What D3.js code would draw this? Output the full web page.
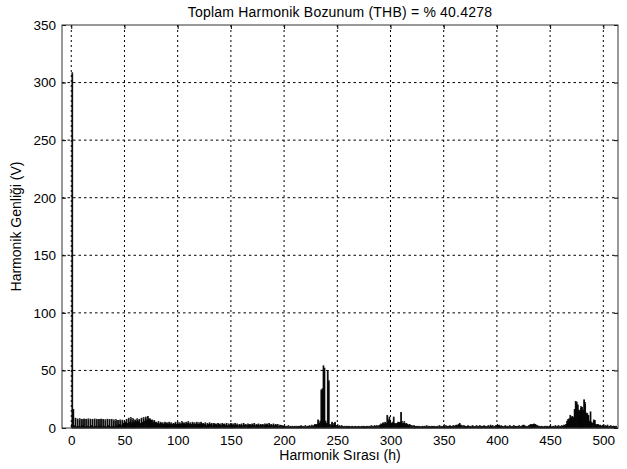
<!DOCTYPE html>
<html>
<head>
<meta charset="utf-8">
<script src="https://cdn.jsdelivr.net/npm/d3@7"></script>
<style>
  body { margin: 0; background: #fff; }
  text { font-family: "Liberation Sans", Arial, sans-serif; }
</style>
</head>
<body>
<div id="chart"></div>
<script>
var titleText = "Toplam Harmonik Bozunum (THB) = % 40.4278";
var xTitle = "Harmonik Sırası (h)";
var yTitle = "Harmonik Genliği (V)";
var xTicks = [0, 50, 100, 150, 200, 250, 300, 350, 400, 450, 500];
var yTicks = [0, 50, 100, 150, 200, 250, 300, 350];

// harmonic amplitudes (V), index = harmonic order 0..512
var amp = [
  0, 308.5, 16, 2, 8.5, 1, 7.8, 1.5, 8, 1,            // 0
  7.5, 2, 7.8, 1, 7.6, 1.5, 7.9, 1, 7.7, 2,           // 10
  7.5, 1, 7.8, 1.5, 7.6, 1, 7.4, 2, 7.7, 1,           // 20
  7.5, 1.5, 7.2, 1, 7.6, 2, 7.3, 1, 7.5, 1.5,         // 30
  7, 1, 7.2, 2, 6.5, 3, 7, 2.5, 6.8, 4,               // 40
  6, 5, 7.5, 4, 8.5, 5, 9, 4.5, 8, 5,                 // 50
  7, 5.5, 8, 6, 7.5, 4, 8.5, 5, 9, 6,                 // 60
  9.5, 7, 10, 7.5, 8, 6.5, 7, 5, 6.5, 5,              // 70
  5, 4, 5.5, 3.5, 5, 4, 4.5, 3, 5, 3.5,               // 80
  4.5, 3, 5, 3.5, 4.5, 3, 4, 3.5, 5, 3,               // 90
  5, 3.5, 4.5, 3, 5.5, 3.5, 4.5, 3, 5, 4,             // 100
  5.5, 3.5, 4.5, 3, 5, 3.5, 4.5, 3, 5, 3,             // 110
  4.5, 3, 5, 3.5, 4, 3, 4.5, 2.5, 4, 3,               // 120
  4.5, 3, 4, 2.5, 4, 3, 3.5, 2.5, 4, 3,               // 130
  3.5, 2.5, 4, 3, 3.5, 2.5, 4, 2, 3.5, 2.5,           // 140
  4, 2.5, 3.5, 2, 4, 2.5, 3.5, 2, 3, 2.5,             // 150
  3.5, 2, 4, 2.5, 3, 2, 3.5, 2.5, 3, 2,               // 160
  3.5, 2.5, 4, 2, 3, 2.5, 3.5, 2, 3, 2.5,             // 170
  3, 2, 3.5, 2.5, 3.5, 2, 4, 2.5, 3, 2,               // 180
  3.5, 2, 3, 2.5, 3, 1.5, 2.5, 2, 2, 1.5,             // 190
  1.5, 1, 1.5, 1, 2, 1, 1.5, 1, 1.5, 1,               // 200
  1.5, 1, 1.5, 1, 1.5, 1, 2, 1, 1.5, 1,               // 210
  2, 1, 1.5, 1.5, 2, 1, 2.5, 1.5, 2, 3,               // 220
  2.5, 3, 7, 4, 6, 33, 34, 54, 52, 6,                 // 230
  4, 50, 41, 3, 2, 5, 2, 4, 5, 2,                     // 240
  2, 1.5, 2, 1, 2, 1.5, 1, 1.5, 1, 1.5,               // 250
  1, 1.5, 1, 1, 1.5, 1, 1, 1.5, 1, 1,                 // 260
  1.5, 1, 1, 1.5, 1, 1.5, 1, 1, 1.5, 1,               // 270
  1.5, 1, 2, 1.5, 1, 2, 1.5, 2, 1.5, 2,               // 280
  2.5, 3.5, 3, 4.5, 3.5, 5, 4, 11, 7, 9.5,            // 290
  5, 4, 5, 9.5, 4, 3.5, 4, 5, 4.5, 5,                 // 300
  13.5, 5.5, 4, 5.5, 3.5, 4, 3, 2.5, 3, 2,            // 310
  2, 1.5, 2, 1.5, 1, 1.5, 1, 1.5, 1, 1,               // 320
  1.5, 1, 1.5, 1, 2, 1, 1.5, 1, 1, 1.5,               // 330
  1, 1.5, 1, 1, 1.5, 1, 2, 1, 1.5, 1,                 // 340
  1.5, 1, 2, 1.5, 1, 1.5, 2, 1, 1.5, 2,               // 350
  1.5, 2, 2.5, 2, 3, 4, 2.5, 2, 1.5, 2,               // 360
  1.5, 1, 1.5, 2, 1, 1.5, 1, 2, 1.5, 1,               // 370
  1.5, 2, 1, 1.5, 2, 1, 1.5, 1, 2, 1.5,               // 380
  1, 1.5, 2, 1, 2.5, 1.5, 2, 1, 1.5, 2,               // 390
  2, 1.5, 2.5, 1, 2, 1.5, 1, 1.5, 2, 1,               // 400
  1.5, 1, 2, 1.5, 1, 1.5, 2, 1, 1.5, 1,               // 410
  1.5, 2, 1, 1.5, 2, 2.5, 2, 1.5, 1, 1.5,             // 420
  2, 2.5, 3, 2.5, 3, 3.5, 3, 2.5, 2, 1.5,             // 430
  1.5, 1, 1.5, 1, 1, 1.5, 1, 1.5, 1, 1,               // 440
  1.5, 1, 1, 1.5, 1, 2, 1, 1.5, 2, 1,                 // 450
  1.5, 2, 1.5, 2.5, 2, 3, 6, 7.5, 8, 11,              // 460
  9.5, 10, 9, 16, 23, 22.5, 20, 15.5, 15, 18.5,       // 470
  18, 15.5, 24.5, 22, 13, 12.5, 11, 6, 14, 5,         // 480
  4, 7, 6.5, 3, 2.5, 3, 2, 2.5, 1.5, 2,               // 490
  2.5, 1.5, 2, 1.5, 2.5, 1, 1.5, 2, 1, 1.5,           // 500
  1.5, 1, 1.5                                         // 510
];

var margin = { top: 25, right: 9, bottom: 41, left: 62 };
var width = 627 - margin.left - margin.right,
    height = 469 - margin.top - margin.bottom;

var svg = d3.select("#chart")
  .append("svg")
  .attr("width", width + margin.left + margin.right)
  .attr("height", height + margin.top + margin.bottom)
  .append("g")
  .attr("transform", "translate(" + margin.left + "," + margin.top + ")");

var x = d3.scaleLinear()
  .domain([-8.7, 513.8])
  .range([0, width]);

var y = d3.scaleLinear()
  .domain([0, 350])
  .range([height, 0]);

// dotted grid
svg.selectAll(".vgrid")
  .data(xTicks)
  .enter()
  .append("line")
  .attr("x1", function (d) { return x(d); })
  .attr("x2", function (d) { return x(d); })
  .attr("y1", 0)
  .attr("y2", height)
  .attr("stroke", "#000")
  .attr("stroke-width", 1)
  .style("stroke-dasharray", "2,3");

svg.selectAll(".hgrid")
  .data(yTicks.slice(1, -1))
  .enter()
  .append("line")
  .attr("x1", 0)
  .attr("x2", width)
  .attr("y1", function (d) { return y(d); })
  .attr("y2", function (d) { return y(d); })
  .attr("stroke", "#000")
  .attr("stroke-width", 1)
  .style("stroke-dasharray", "2.5,3");

// bars
var step = x(1) - x(0);
var bw = step * 0.8;
svg.selectAll(".bar")
  .data(amp)
  .enter()
  .append("rect")
  .attr("x", function (d, i) { return x(i) - bw / 2; })
  .attr("y", function (d) { return y(d); })
  .attr("width", bw)
  .attr("height", function (d) { return y(0) - y(d); })
  .attr("fill", "#000")
  .attr("stroke", "#000")
  .attr("stroke-width", 0.8);

// axes
var xAxis = d3.axisBottom(x).tickValues(xTicks).tickSize(-4).tickPadding(7);
var yAxis = d3.axisLeft(y).tickValues(yTicks).tickSize(-4).tickPadding(6);

var gx = svg.append("g")
  .attr("transform", "translate(0," + height + ")")
  .call(xAxis);
var gy = svg.append("g").call(yAxis);
var gt = svg.append("g").call(d3.axisTop(x).tickValues(xTicks).tickSize(-4).tickFormat(""));
var gr = svg.append("g")
  .attr("transform", "translate(" + width + ",0)")
  .call(d3.axisRight(y).tickValues(yTicks).tickSize(-4).tickFormat(""));

[gx, gy, gt, gr].forEach(function (g) {
  g.select(".domain").remove();
  g.selectAll(".tick line").attr("stroke", "#000");
  g.selectAll("text")
    .style("font-size", "13.5px")
    .style("font-family", "'Liberation Sans', Arial, sans-serif")
    .attr("fill", "#000");
});

svg.append("rect")
  .attr("x", 0)
  .attr("y", 0)
  .attr("width", width)
  .attr("height", height)
  .attr("fill", "none")
  .attr("stroke", "#333")
  .attr("stroke-width", 1);

// titles
svg.append("text")
  .attr("x", width / 2)
  .attr("y", -8)
  .attr("text-anchor", "middle")
  .style("font-size", "14px")
  .style("letter-spacing", "0.2px")
  .text(titleText);

svg.append("text")
  .attr("x", width / 2)
  .attr("y", height + 32)
  .attr("text-anchor", "middle")
  .style("font-size", "14px")
  .text(xTitle);

svg.append("text")
  .attr("transform", "rotate(-90)")
  .attr("x", -height / 2)
  .attr("y", -41)
  .attr("text-anchor", "middle")
  .style("font-size", "14px")
  .text(yTitle);
</script>
</body>
</html>
